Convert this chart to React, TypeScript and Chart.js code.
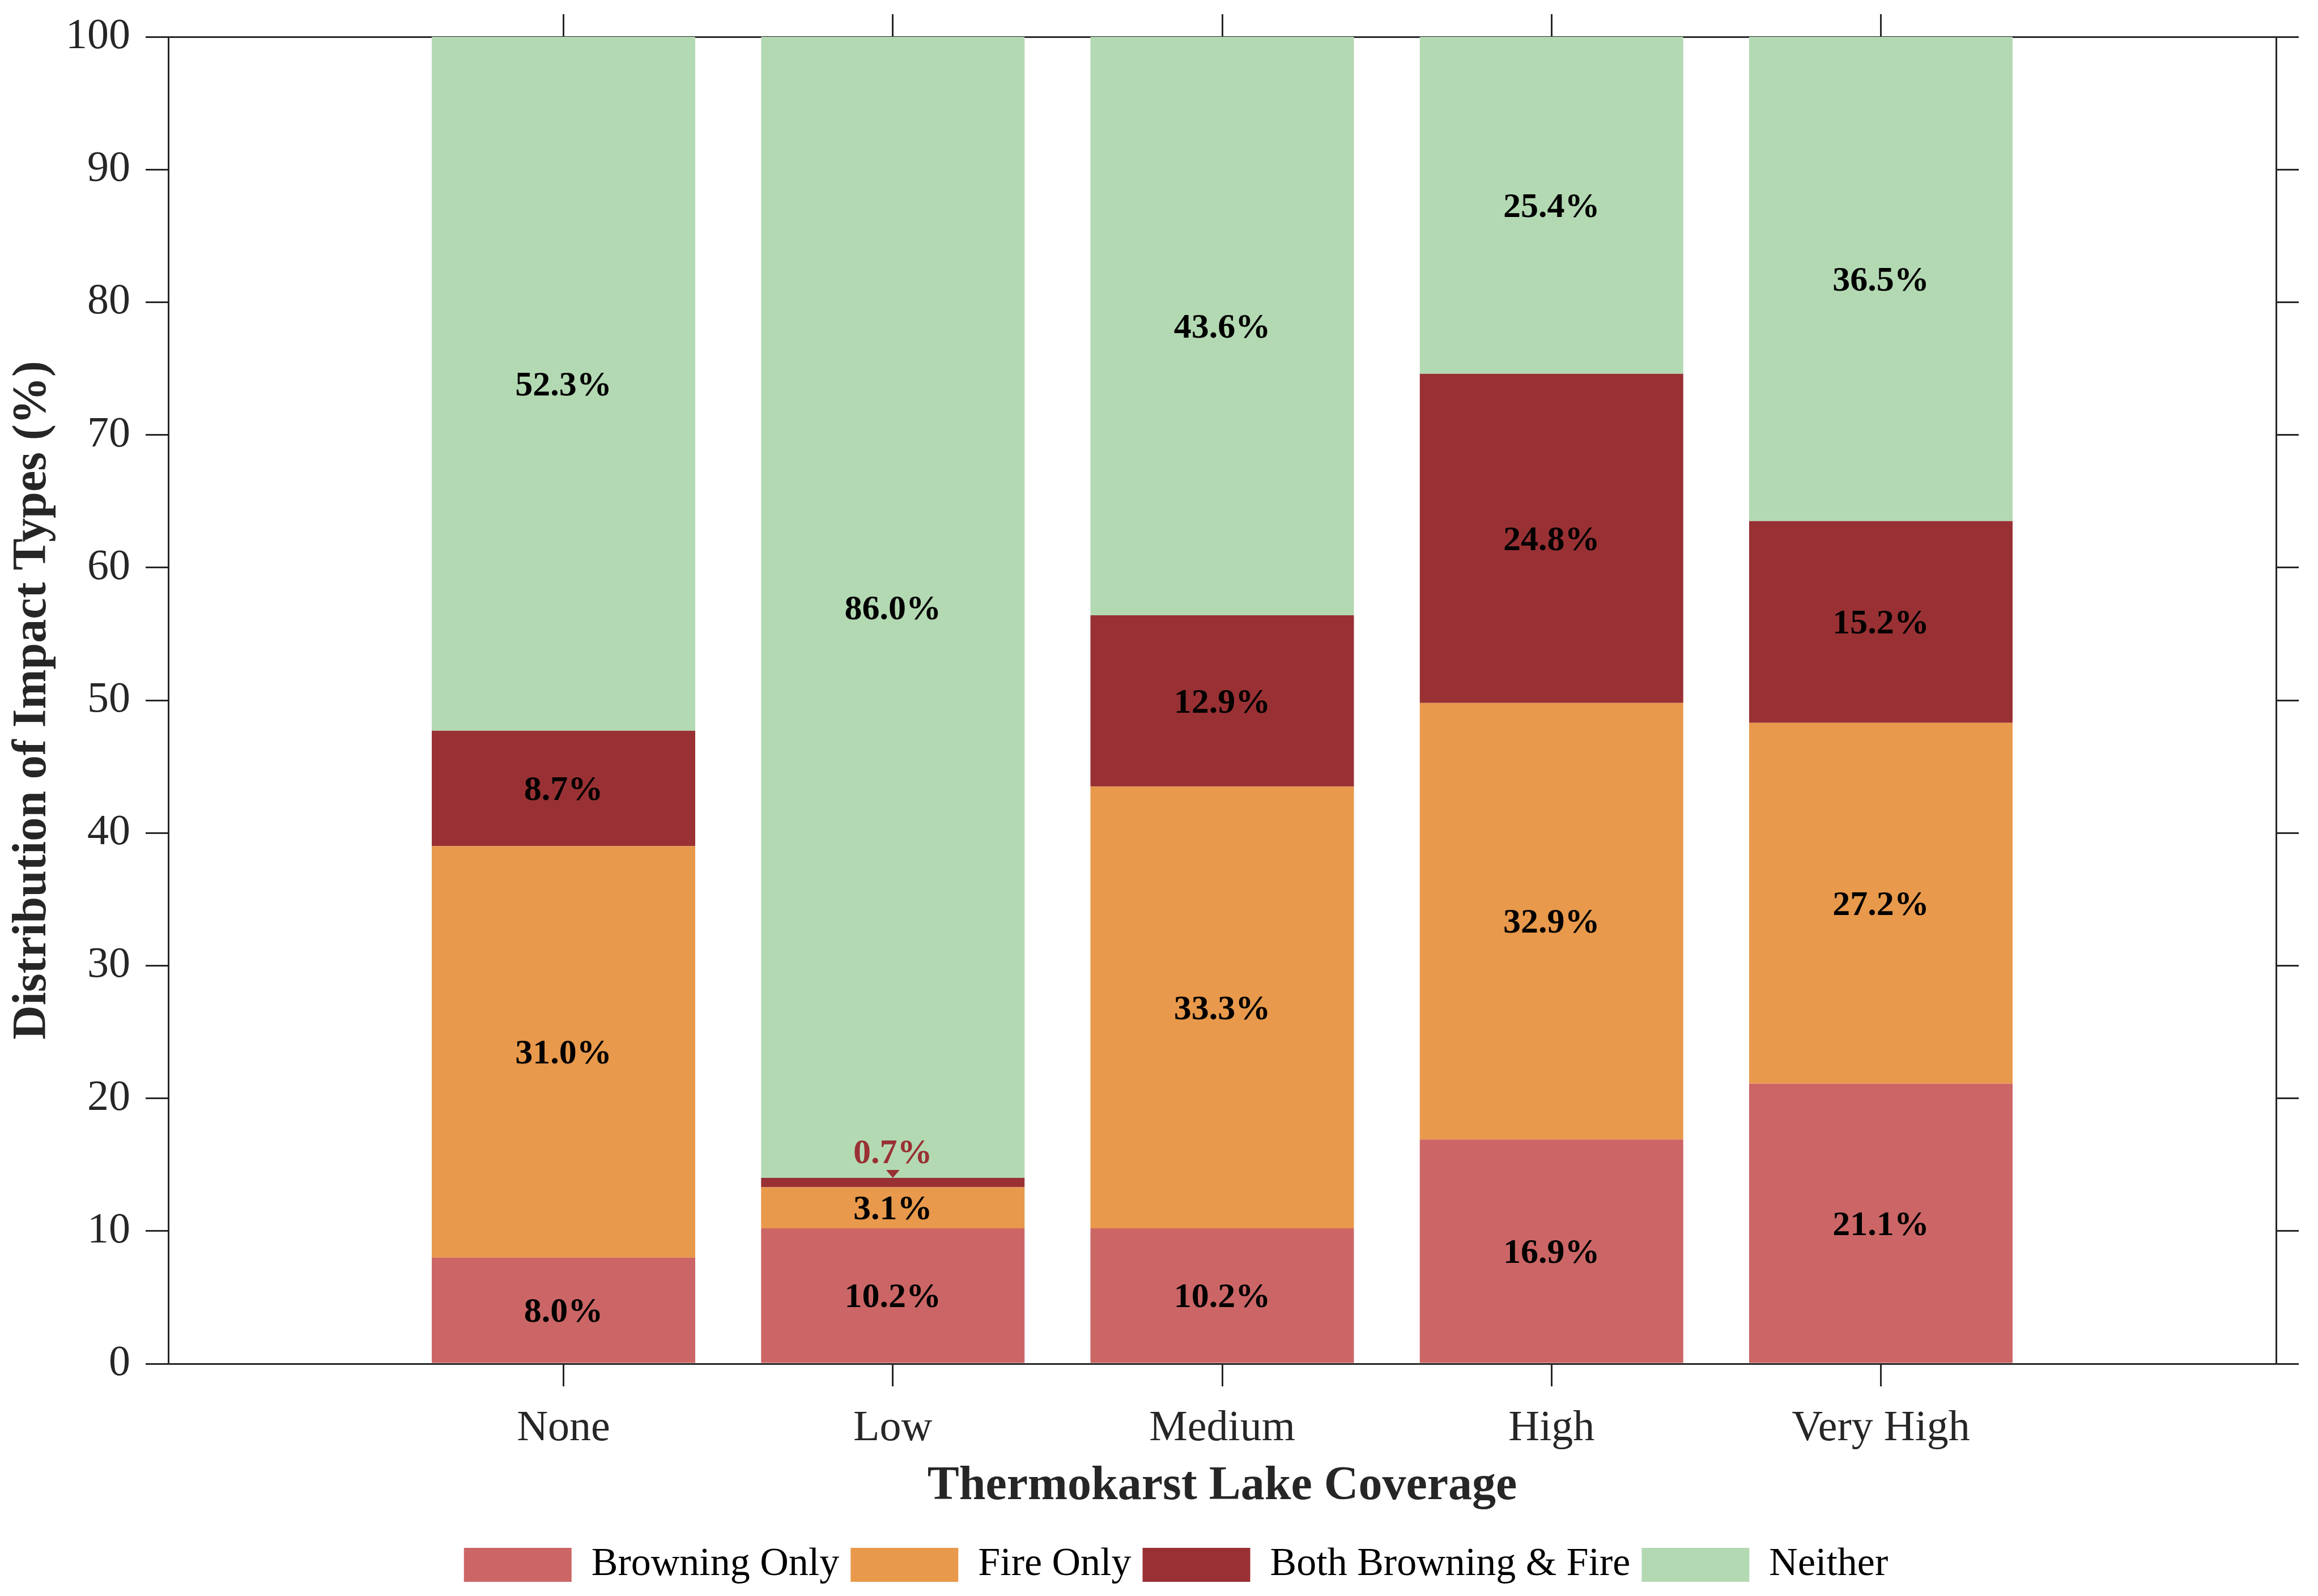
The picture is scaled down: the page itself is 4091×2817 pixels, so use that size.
import { useEffect, useRef } from "react";
import { Chart, registerables } from "chart.js";

Chart.register(...registerables);

const categories = ["None", "Low", "Medium", "High", "Very High"];
const browningOnly = [8.0, 10.2, 10.2, 16.9, 21.1];
const fireOnly = [31.0, 3.1, 33.3, 32.9, 27.2];
const bothBrowningFire = [8.7, 0.7, 12.9, 24.8, 15.2];
const neither = [52.3, 86.0, 43.6, 25.4, 36.5];
const seriesNames = ["Browning Only", "Fire Only", "Both Browning & Fire", "Neither"];
const seriesValues = [browningOnly, fireOnly, bothBrowningFire, neither];
const seriesColors = ["#CC6666", "#E8994B", "#993134", "#B3D9B3"];
const yTickValues = [0, 10, 20, 30, 40, 50, 60, 70, 80, 90, 100];

const serif = "'Liberation Serif', 'Times New Roman', serif";
const axisColor = "#262626";
const labelSize = 62;

// puts the percentage in the middle of each segment, tiny ones go above with a marker
const segmentLabels = {
  id: "segmentLabels",
  afterDatasetsDraw(chart: any) {
    const ctx = chart.ctx;
    ctx.save();
    ctx.font = `bold ${labelSize}px ${serif}`;
    ctx.textAlign = "center";
    ctx.textBaseline = "alphabetic";
    const digitShift = labelSize * 0.33; // baseline offset so the digits sit centred
    chart.data.datasets.forEach((ds: any, di: number) => {
      const meta = chart.getDatasetMeta(di);
      meta.data.forEach((bar: any, i: number) => {
        const value = seriesValues[di][i];
        const { x, y, base } = bar.getProps(["x", "y", "base"], true);
        const text = value.toFixed(1) + "%";
        if (value < 2) {
          ctx.fillStyle = ds.backgroundColor;
          ctx.fillText(text, x, y - 47 + digitShift);
          ctx.beginPath();
          ctx.moveTo(x - 12, y - 14);
          ctx.lineTo(x + 12, y - 14);
          ctx.lineTo(x, y);
          ctx.closePath();
          ctx.fill();
        } else {
          ctx.fillStyle = "#000";
          ctx.fillText(text, x, (y + base) / 2 + digitShift);
        }
      });
    });
    ctx.restore();
  },
};

// the legend in the figure sits a little right of centre and a bit higher
const legendNudge = {
  id: "legendNudge",
  afterLayout(chart: any) {
    const lg = chart.legend;
    if (!lg) return;
    lg.left += 30;
    lg.right += 30;
    lg.top -= 10;
    lg.bottom -= 10;
  },
};

const categoryTicks = (scale: any) => {
  scale.ticks = categories.map((_, i) => ({ value: i }));
};

const App = () => {
  const canvasRef = useRef<HTMLCanvasElement | null>(null);

  useEffect(() => {
    document.body.style.margin = "0";
    if (!canvasRef.current) return;

    const grid = {
      offset: false,
      drawOnChartArea: false,
      drawTicks: true,
      tickLength: 40,
      color: axisColor,
      lineWidth: 3,
    };
    const border = { display: true, color: axisColor, width: 3 };

    const chart = new Chart(canvasRef.current, {
      type: "bar",
      data: {
        datasets: seriesNames.map((name, di) => ({
          label: name,
          data: categories.map((_, i) => ({ x: i, y: seriesValues[di][i] })),
          backgroundColor: seriesColors[di],
          borderWidth: 0,
          barPercentage: 0.8,
          categoryPercentage: 1.0,
        })),
      },
      options: {
        animation: false,
        responsive: false,
        devicePixelRatio: 1,
        layout: { padding: 0 },
        scales: {
          x: {
            type: "linear",
            position: "bottom",
            offset: false,
            min: -1.2,
            max: 5.2,
            stacked: true,
            z: 1,
            afterBuildTicks: categoryTicks,
            afterFit: (s: any) => {
              s.height = 310;
              s.paddingLeft = 0;
              s.paddingRight = 0;
            },
            grid,
            border,
            ticks: {
              padding: 29,
              color: axisColor,
              font: { family: serif, size: 76 },
              autoSkip: false,
              maxRotation: 0,
              callback: (v: any) => categories[v] ?? "",
            },
            title: {
              display: true,
              text: "Thermokarst Lake Coverage",
              color: axisColor,
              font: { family: serif, size: 84, weight: "bold" },
              padding: { top: 0, bottom: 42 },
            },
          },
          x2: {
            type: "linear",
            position: "top",
            offset: false,
            min: -1.2,
            max: 5.2,
            z: 1,
            afterBuildTicks: categoryTicks,
            afterFit: (s: any) => {
              s.height = 65;
              s.paddingLeft = 0;
              s.paddingRight = 0;
            },
            grid,
            border,
            ticks: { display: false },
          },
          y: {
            type: "linear",
            position: "left",
            min: 0,
            max: 100,
            stacked: true,
            z: 1,
            afterBuildTicks: (s: any) => {
              s.ticks = yTickValues.map((v) => ({ value: v }));
            },
            afterFit: (s: any) => {
              s.width = 297;
              s.paddingTop = 0;
              s.paddingBottom = 0;
            },
            grid,
            border,
            ticks: {
              padding: 27,
              color: axisColor,
              font: { family: serif, size: 76 },
            },
            title: {
              display: true,
              text: "Distribution of Impact Types (%)",
              color: axisColor,
              font: { family: serif, size: 84, weight: "bold" },
              padding: { top: 8, bottom: 0 },
            },
          },
          y2: {
            type: "linear",
            position: "right",
            min: 0,
            max: 100,
            z: 1,
            afterBuildTicks: (s: any) => {
              s.ticks = yTickValues.map((v) => ({ value: v }));
            },
            afterFit: (s: any) => {
              s.width = 74;
              s.paddingTop = 0;
              s.paddingBottom = 0;
            },
            grid,
            border,
            ticks: { display: false },
          },
        },
        plugins: {
          tooltip: { enabled: false },
          legend: {
            position: "bottom",
            labels: {
              boxWidth: 190,
              boxHeight: 60,
              padding: 20,
              color: "#000",
              font: { family: serif, size: 70 },
            },
          },
        },
      } as any,
      plugins: [segmentLabels, legendNudge],
    });

    return () => {
      chart.destroy();
    };
  }, []);

  return <canvas ref={canvasRef} width={4091} height={2817} style={{ display: "block" }} />;
};

export default App;
